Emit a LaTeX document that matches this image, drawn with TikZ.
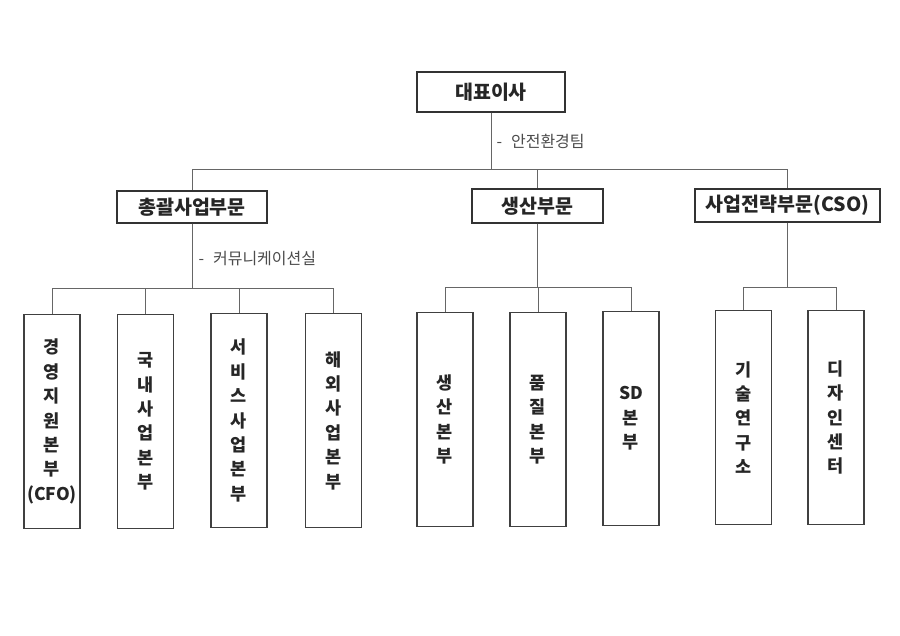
\documentclass[tikz,border=0pt]{standalone}
\usepackage{fontspec}
\setmainfont{Noto Sans CJK KR}
\begin{document}
\begin{tikzpicture}[x=1pt, y=-1pt,
    box/.style={draw=black!80, line width=1.2pt, fill=white, inner sep=0pt,
        font=\fontsize{19.5}{22}\selectfont\bfseries, text=black!85},
    unit/.style={draw=black!75, line width=1.1pt, fill=white, inner sep=0pt,
        minimum width=56pt, minimum height=214pt, anchor=north, align=center,
        font=\fontsize{17.5}{24.4}\selectfont\bfseries, text=black!85},
    conn/.style={draw=black!60, line width=0.9pt},
    note/.style={anchor=west, font=\fontsize{16}{18}\selectfont, text=black!70}]

    % Page
    \fill[white] (0,0) rectangle (900,636);
    \useasboundingbox (0,0) rectangle (900,636);

    % TOP: CEO
    \node[box, minimum width=148pt, minimum height=40pt] (ceo) at (491,92) {대표이사};
    \node[note] (safety) at (493,141) {-\hspace{9pt}안전환경팀};

    % DIVISIONS
    \node[box, minimum width=150pt, minimum height=32pt] (gen) at (192,207) {총괄사업부문};
    \node[box, minimum width=131pt, minimum height=34pt] (prod) at (537.5,206) {생산부문};
    \node[box, minimum width=185pt, minimum height=33pt] (strat) at (787.5,205.5) {사업전략부문(CSO)};
    \node[note] (comm) at (195,259) {-\hspace{9pt}커뮤니케이션실};

    % UNITS: general business
    \node[unit] (cfo) at (52,314) {경\\영\\지\\원\\본\\부\\(CFO)};
    \node[unit] (dom) at (145.5,314) {국\\내\\사\\업\\본\\부};
    \node[unit] (svc) at (239,313) {서\\비\\스\\사\\업\\본\\부};
    \node[unit] (ovs) at (333.5,313) {해\\외\\사\\업\\본\\부};

    % UNITS: production
    \node[unit] (mfg) at (445,312) {생\\산\\본\\부};
    \node[unit] (qual) at (538,312) {품\\질\\본\\부};
    \node[unit] (sd) at (631,311) {SD\\본\\부};

    % UNITS: strategy
    \node[unit] (lab) at (743.5,310) {기\\술\\연\\구\\소};
    \node[unit] (design) at (836,310) {디\\자\\인\\센\\터};

    % Connectors
    \foreach \d in {gen,prod,strat}
        \draw[conn] (ceo.south) -- ++(0,57) -| (\d.north);
    \foreach \u in {cfo,dom,svc,ovs}
        \draw[conn] (gen.south) -- ++(0,65) -| (\u.north);
    \foreach \u in {mfg,qual,sd}
        \draw[conn] (prod.south) -- ++(0,64) -| (\u.north);
    \foreach \u in {lab,design}
        \draw[conn] (strat.south) -- ++(0,65) -| (\u.north);

\end{tikzpicture}
\end{document}
